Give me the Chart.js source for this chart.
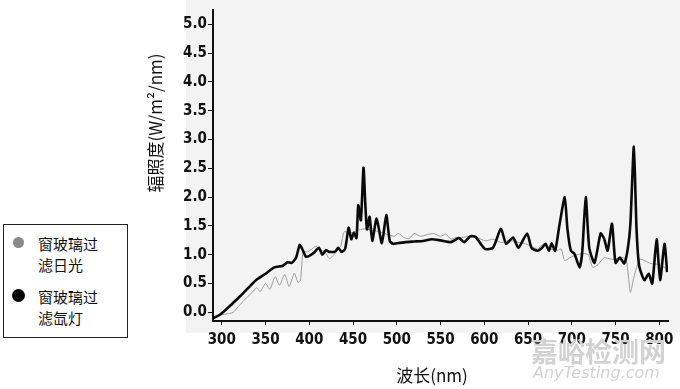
<!DOCTYPE html>
<html>
<head>
<meta charset="utf-8">
<script src="https://cdn.jsdelivr.net/npm/chart.js@4/dist/chart.umd.min.js"></script>
<style>
  body { margin: 0; background: #fff; }
  #wrap { position: relative; width: 680px; height: 389px; overflow: hidden; }
  #chart { position: absolute; left: 0; top: 0; }
  .legend {
    position: absolute; left: 3px; top: 224px; width: 123px; height: 112px;
    border: 1px solid #222; background: #fff;
    font-family: 'Noto Sans CJK SC', sans-serif; font-size: 15px; color: #111; line-height: 21px;
  }
  .item { position: absolute; left: 34px; }
  .dot { position: absolute; border-radius: 50%; }
  .mark { position: absolute; color: #d2d2d2; line-height: 1; white-space: nowrap; }
</style>
</head>
<body>
<div id="wrap">
  <canvas id="chart" width="680" height="389"></canvas>
  <div class="legend">
    <div class="dot" style="left:9px;top:12px;width:11px;height:11px;background:#8a8a8a;"></div>
    <div class="item" style="top:8px;">窗玻璃过<br>滤日光</div>
    <div class="dot" style="left:8px;top:64px;width:13px;height:13px;background:#000;"></div>
    <div class="item" style="top:61px;">窗玻璃过<br>滤氙灯</div>
  </div>
  <div class="mark" style="left:531px;top:337px;font-size:27px;font-weight:bold;font-family:'Noto Sans CJK SC',sans-serif;">嘉峪检测网</div>
  <div class="mark" style="left:533px;top:365px;font-size:16px;font-style:italic;font-family:'DejaVu Sans',sans-serif;">AnyTesting.com</div>
</div>
<script>
// wavelength (nm) and irradiance (W/m2/nm)
const xenonNm = [290, 297, 305, 312, 321, 330, 340, 351, 360, 370, 375, 380, 385, 389, 392, 396, 400, 405, 411, 415,
    419, 423, 430, 433, 437, 441, 445, 448, 451, 454, 456, 459, 462, 464, 466, 469, 472, 477, 483, 488,
    492, 496, 500, 510, 520, 530, 540, 550, 562, 571, 577, 584, 590, 596, 601, 610, 619, 625, 633, 639,
    649, 654, 661, 666, 670, 674, 677, 681, 686, 692, 695, 699, 703, 709, 712, 716, 720, 726, 733, 737,
    741, 746, 750, 755, 760, 764, 767, 771, 774, 777, 783, 788, 792, 797, 801, 806, 809];
const xenonVal = [-0.1, -0.05, 0.05, 0.15, 0.28, 0.42, 0.57, 0.68, 0.78, 0.81, 0.87, 0.86, 0.95, 1.17, 1.1, 0.97, 0.98, 1.03, 1.12, 1.0,
    1.08, 1.05, 1.06, 1.12, 1.05, 1.1, 1.47, 1.27, 1.38, 1.29, 1.86, 1.6, 2.51, 1.9, 1.44, 1.66, 1.24, 1.63, 1.2, 1.69,
    1.24, 1.19, 1.2, 1.22, 1.23, 1.24, 1.27, 1.25, 1.22, 1.29, 1.22, 1.32, 1.31, 1.19, 1.1, 1.12, 1.45, 1.19, 1.3, 1.12,
    1.37, 1.12, 1.07, 1.12, 1.19, 1.07, 1.2, 1.07, 1.52, 2.0, 1.46, 1.07, 1.02, 0.78, 1.05, 2.0, 1.12, 0.86, 1.37, 1.28,
    1.07, 1.54, 0.86, 0.95, 0.85, 1.1, 1.53, 2.88, 1.46, 0.81, 0.56, 0.67, 0.5, 1.27, 0.56, 1.19, 0.7];

const sunNm = [295, 305, 313, 319, 328, 335, 340, 344, 350, 355, 361, 366, 372, 377, 383, 387, 390, 393, 398, 403,
    408, 413, 418, 423, 428, 432, 436, 440, 447, 455, 462, 470, 480, 490, 497, 502, 508, 514, 520, 527,
    535, 542, 550, 556, 562, 568, 574, 584, 592, 601, 610, 620, 628, 638, 647, 654, 661, 668, 676, 684,
    688, 692, 698, 705, 713, 719, 724, 730, 737, 746, 755, 762, 767, 771, 778, 790, 800, 808];
const sunVal = [-0.05, -0.03, 0.0, 0.1, 0.25, 0.35, 0.43, 0.36, 0.5, 0.4, 0.62, 0.47, 0.66, 0.45, 0.68, 0.52, 0.56, 1.05, 1.05, 1.1,
    1.15, 1.08, 1.05, 0.93, 1.0, 1.1, 1.15, 1.4, 1.38, 1.42, 1.45, 1.43, 1.4, 1.35, 1.32, 1.37, 1.3, 1.28, 1.37, 1.32,
    1.35, 1.37, 1.32, 1.36, 1.27, 1.3, 1.3, 1.32, 1.3, 1.24, 1.27, 1.21, 1.25, 1.22, 1.19, 1.15, 1.1, 1.19, 1.1, 1.08,
    1.1, 0.9, 0.95, 1.0, 1.02, 1.0, 0.78, 0.83, 0.95, 0.92, 0.95, 0.93, 0.35, 0.61, 0.92, 0.85, 0.83, 0.76];

const yTitle = '辐照度(W/m²/nm)';
const xTitle = '波长(nm)';

function toPoints(xs, ys) {
    return xs.map((x, i) => ({ x: x, y: ys[i] }));
}

const tickFont = { family: "'Liberation Sans Narrow', 'DejaVu Sans Condensed', sans-serif", size: 15, weight: 'bold' };

// grey paper behind the plot, and the two axis titles
const backdrop = {
    id: 'backdrop',
    beforeDraw(chart) {
        const ctx = chart.ctx;
        ctx.save();
        ctx.fillStyle = '#f3f3f3';
        ctx.fillRect(186, 0, 494, 333);
        ctx.restore();
    },
    afterDraw(chart) {
        const ctx = chart.ctx;
        ctx.save();
        ctx.fillStyle = '#111';
        ctx.font = "17px 'Noto Sans CJK SC', sans-serif";
        ctx.textAlign = 'center';
        ctx.textBaseline = 'middle';
        ctx.translate(156, 123);
        ctx.rotate(-Math.PI / 2);
        ctx.fillText(yTitle, 0, 0);
        ctx.restore();
        ctx.save();
        ctx.fillStyle = '#111';
        ctx.font = "17px 'Noto Sans CJK SC', sans-serif";
        ctx.textAlign = 'center';
        ctx.textBaseline = 'middle';
        ctx.fillText(xTitle, 432, 376);
        ctx.restore();
    }
};

new Chart(document.getElementById('chart'), {
    type: 'line',
    data: {
        datasets: [{
            label: '窗玻璃过滤氙灯',
            data: toPoints(xenonNm, xenonVal),
            borderColor: '#0a0a0a',
            borderWidth: 2.6,
            pointRadius: 0,
            tension: 0.2
        }, {
            label: '窗玻璃过滤日光',
            data: toPoints(sunNm, sunVal),
            borderColor: '#9c9c9c',
            borderWidth: 1,
            pointRadius: 0,
            tension: 0.2
        }]
    },
    options: {
        responsive: false,
        animation: false,
        layout: { padding: { top: 3, right: 12, left: 0, bottom: 0 } },
        plugins: { legend: { display: false }, tooltip: { enabled: false } },
        scales: {
            x: {
                type: 'linear',
                min: 290,
                max: 810,
                afterFit(scale) { scale.height = 68; },
                border: { color: '#111', width: 2 },
                grid: { drawOnChartArea: false, drawTicks: true, tickLength: 4, color: '#111' },
                ticks: { stepSize: 50, includeBounds: false, color: '#111', font: tickFont, padding: 6, maxRotation: 0 }
            },
            y: {
                min: -0.15,
                max: 5.25,
                afterFit(scale) { scale.width = 213; },
                border: { color: '#111', width: 2 },
                grid: { drawOnChartArea: false, drawTicks: true, tickLength: 5, color: '#111' },
                ticks: {
                    stepSize: 0.5, includeBounds: false, color: '#111', font: tickFont, padding: 1,
                    callback: v => v.toFixed(1)
                }
            }
        }
    },
    plugins: [backdrop]
});
</script>
</body>
</html>
